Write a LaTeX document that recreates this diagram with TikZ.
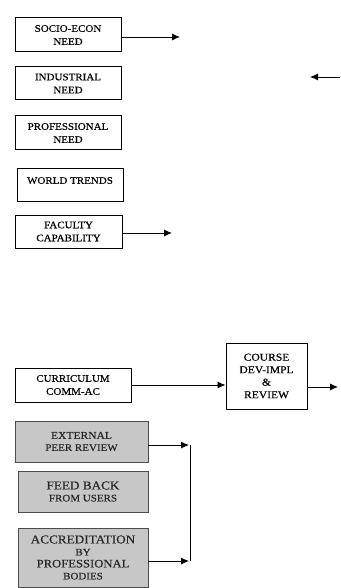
\documentclass[tikz,border=0pt]{standalone}
\usepackage{fontspec}
\setmainfont{Liberation Serif}[FakeStretch=1.1,FakeBold=0.4]
\usetikzlibrary{arrows.meta}
\begin{document}
\begin{tikzpicture}[x=1pt,y=-1pt,
  box/.style={draw=black,line width=1pt,rectangle,align=center,inner sep=1pt,
    font=\fontsize{10}{13}\selectfont},
  gbox/.style={draw=black!70,line width=0.9pt,fill=black!22,rectangle,align=center,inner sep=1pt,
    text=black!85},
  arr/.style={line width=0.9pt,-{Latex[length=8pt,width=7pt]}},
  ln/.style={line width=0.9pt}]
\useasboundingbox (0,0) rectangle (340,588);
\node[box,minimum width=106pt,minimum height=34pt] (socio) at (68,35) {SOCIO-ECON\\NEED};
\node[box,minimum width=106pt,minimum height=33pt] (ind) at (68,83.5) {INDUSTRIAL\\NEED};
\node[box,minimum width=106pt,minimum height=34pt] (prof) at (68,133) {PROFESSIONAL\\NEED};
\node[box,minimum width=106pt,minimum height=33pt,text depth=8pt] (world) at (70,184.5) {WORLD TRENDS};
\node[box,minimum width=107pt,minimum height=33pt] (fac) at (68.5,231.5) {FACULTY\\CAPABILITY};
\node[box,minimum width=116pt,minimum height=34pt] (curr) at (73,385) {CURRICULUM\\COMM-AC};
\node[box,minimum width=81pt,minimum height=66pt,font=\fontsize{10.5}{12.5}\selectfont] (course) at (266.5,376) {COURSE\\DEV-IMPL\\\&\\REVIEW};
\node[gbox,minimum width=133pt,minimum height=41pt] (ext) at (81.5,441.5)
  {{\fontsize{10.5}{13}\selectfont EXTERNAL}\\{\fontsize{10}{13}\selectfont PEER REVIEW}};
\node[gbox,minimum width=130pt,minimum height=41pt] (feed) at (83,491.5)
  {{\fontsize{12}{14}\selectfont FEED BACK}\\{\fontsize{10}{13}\selectfont FROM USERS}};
\node[gbox,minimum width=130pt,minimum height=59pt] (acc) at (83,557.5)
  {{\fontsize{12}{14}\selectfont ACCREDITATION}\\{\fontsize{10}{14}\selectfont BY}\\{\fontsize{11.5}{14}\selectfont PROFESSIONAL}\\{\fontsize{10}{13}\selectfont BODIES}};
\coordinate (s1) at (180,37);
\coordinate (f1) at (172,233);
\coordinate (r0) at (340,77);
\coordinate (r1) at (310,77);
\coordinate (c1) at (338,387);
\coordinate (e1) at (189,445);
\coordinate (a1) at (189,561);
\coordinate (v0) at (190,445);
\coordinate (v1) at (190,561);
\draw[arr] (socio.east |- s1) -- (s1);
\draw[arr] (fac.east |- f1) -- (f1);
\draw[arr] (r0) -- (r1);
\draw[arr] (curr.east) -- (course.west |- curr.east);
\draw[arr] (course.east |- c1) -- (c1);
\draw[arr] (ext.east |- e1) -- (e1);
\draw[arr] (acc.east |- a1) -- (a1);
\draw[ln] (v0) -- (v1);
\end{tikzpicture}
\end{document}
